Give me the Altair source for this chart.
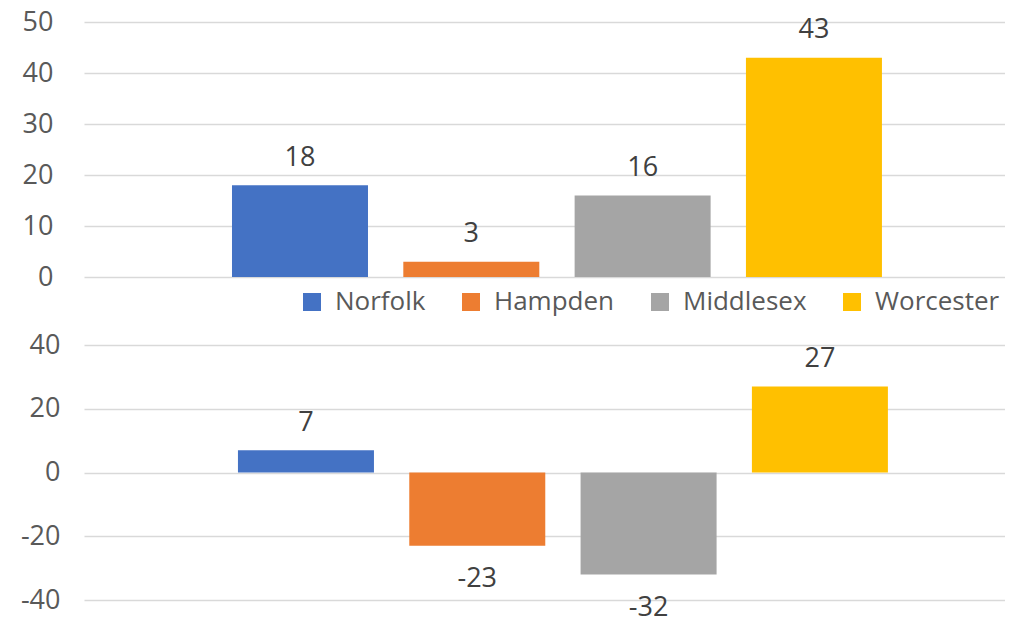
import altair as alt
import pandas as pd

counties = ["Norfolk", "Hampden", "Middlesex", "Worcester"]
colors = ["#4472C4", "#ED7D31", "#A5A5A5", "#FFC000"]
top_values = [18, 3, 16, 43]
bottom_values = [7, -23, -32, 27]
top_ticks = [0, 10, 20, 30, 40, 50]
bottom_ticks = [-40, -20, 0, 20, 40]

FONT = "Open Sans"
W = 921
H = 255

top_df = pd.DataFrame({"county": counties, "value": top_values})
bot_df = pd.DataFrame({"county": counties, "value": bottom_values})

color_scale = alt.Scale(domain=counties, range=colors)


def panel(df, ydomain, ticks, align, label_pad, show_legend):
    xscale = alt.Scale(domain=counties, paddingInner=0.206, paddingOuter=0.791, align=align)
    base = alt.Chart(df).encode(
        x=alt.X("county:N", scale=xscale, axis=None, sort=counties),
    )
    if show_legend:
        legend = alt.Legend(
            orient="none", legendX=215, legendY=267, direction="horizontal",
            title=None, symbolType="square", symbolSize=324, symbolStrokeWidth=0,
            labelFont=FONT, labelFontSize=26, labelColor="#595959",
            labelOffset=10, columnPadding=32, padding=0, labelLimit=300,
        )
    else:
        legend = None
    bars = base.mark_bar(size=136).encode(
        y=alt.Y("value:Q", scale=alt.Scale(domain=ydomain, nice=False, zero=False),
                axis=alt.Axis(values=ticks, title=None, ticks=False, domain=False,
                              grid=True, gridColor="#D9D9D9", gridWidth=1.5,
                              labelFont=FONT, labelFontSize=27, labelColor="#595959",
                              labelPadding=label_pad, labelExpr="'' + datum.value")),
        color=alt.Color("county:N", scale=color_scale, legend=legend, sort=counties),
    )
    txt = base.transform_calculate(label="'' + datum.value")
    pos = txt.transform_filter("datum.value >= 0").mark_text(
        font=FONT, fontSize=27, color="#404040", baseline="alphabetic", dy=-19.5
    ).encode(y="value:Q", text="label:N")
    neg = txt.transform_filter("datum.value < 0").mark_text(
        font=FONT, fontSize=27, color="#404040", baseline="alphabetic", dy=41
    ).encode(y="value:Q", text="label:N")
    return alt.layer(bars, pos, neg).properties(width=W, height=H)


top = panel(top_df, [0, 50], top_ticks, 0.546, 31, True)
bottom = panel(bot_df, [-40, 40], bottom_ticks, 0.568, 24, False)

chart = alt.vconcat(top, bottom, spacing=16).resolve_legend(color="independent").properties(
    padding={"left": 12, "top": 0, "right": 0, "bottom": 0},
    background="white",
).configure_view(strokeWidth=0)

chart.save("out.html", embed_options={"renderer": "svg", "actions": False})
